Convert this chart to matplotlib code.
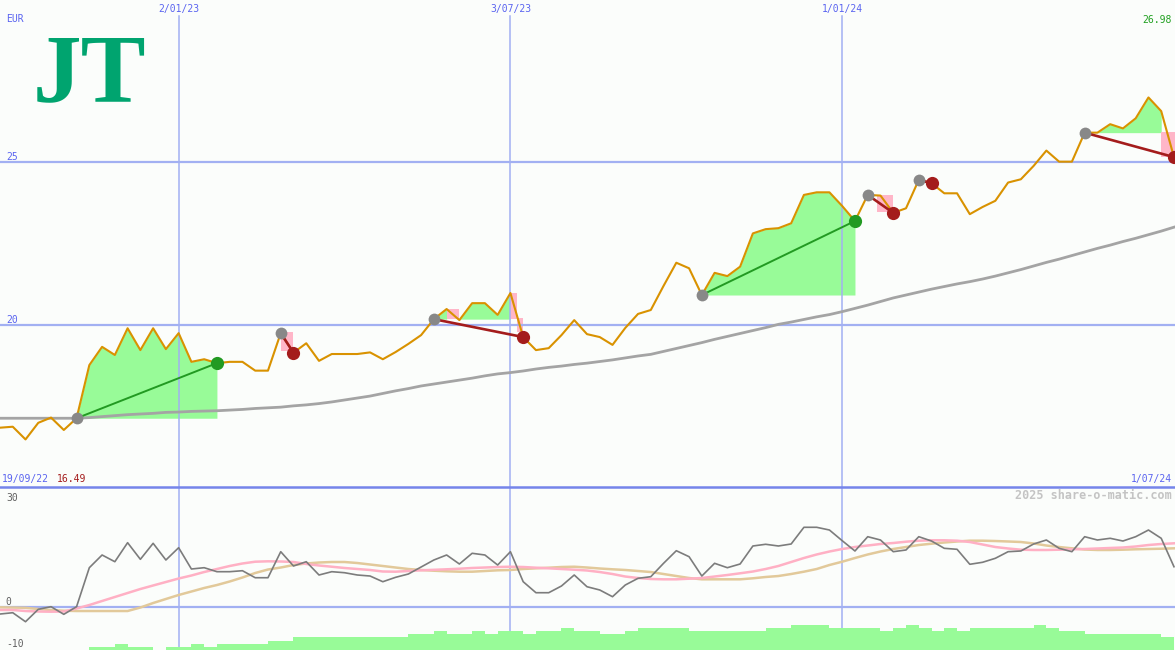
"""Weekly JT share chart (EUR) in the share-o-matic look:
price + long average + trade fills on top, oscillator and volume strip below."""

import matplotlib

matplotlib.use("Agg")  # headless
import matplotlib.pyplot as plt  # noqa: E402
import matplotlib.dates as mdates  # noqa: E402
import numpy as np  # noqa: E402
import pandas as pd  # noqa: E402

# ---- data --------------------------------------------------------------
price = [16.85, 16.88, 16.49, 17.00, 17.16, 16.78, 17.14, 18.77, 19.33, 19.08,
         19.90, 19.23, 19.90, 19.26, 19.75, 18.87, 18.95, 18.83, 18.87, 18.87,
         18.60, 18.60, 19.75, 19.15, 19.44, 18.90, 19.11, 19.11, 19.11, 19.16,
         18.95, 19.17, 19.42, 19.69, 20.18, 20.49, 20.15, 20.67, 20.67, 20.31,
         20.98, 19.63, 19.23, 19.29, 19.69, 20.15, 19.72, 19.63, 19.39, 19.91,
         20.34, 20.46, 21.20, 21.91, 21.74, 20.92, 21.60, 21.50, 21.79, 22.81,
         22.94, 22.97, 23.12, 23.99, 24.07, 24.07, 23.65, 23.19, 23.99, 23.97,
         23.44, 23.58, 24.45, 24.35, 24.04, 24.04, 23.40, 23.62, 23.81, 24.37,
         24.47, 24.88, 25.35, 25.01, 25.01, 25.90, 25.90, 26.16, 26.03, 26.34,
         26.98, 26.56, 25.15]

ma_long = [17.14, 17.14, 17.14, 17.14, 17.14, 17.14, 17.14, 17.16, 17.19, 17.22,
           17.25, 17.27, 17.29, 17.32, 17.33, 17.35, 17.36, 17.37, 17.39, 17.41,
           17.44, 17.46, 17.48, 17.52, 17.55, 17.59, 17.64, 17.70, 17.76, 17.82,
           17.90, 17.98, 18.05, 18.13, 18.19, 18.25, 18.31, 18.37, 18.44, 18.50,
           18.54, 18.59, 18.65, 18.70, 18.74, 18.79, 18.83, 18.88, 18.93, 18.99,
           19.05, 19.10, 19.19, 19.28, 19.37, 19.46, 19.56, 19.65, 19.74, 19.83,
           19.92, 20.02, 20.09, 20.17, 20.25, 20.32, 20.41, 20.51, 20.61, 20.72,
           20.83, 20.92, 21.01, 21.10, 21.18, 21.26, 21.33, 21.41, 21.50, 21.60,
           21.70, 21.81, 21.92, 22.02, 22.13, 22.24, 22.35, 22.45, 22.56, 22.66,
           22.77, 22.88, 23.00]

osc = [-1.85, -1.49, -3.97, -0.55, 0.17, -1.93, 0.17, 10.91, 14.41, 12.56,
       17.80, 13.22, 17.63, 13.03, 16.42, 10.55, 10.91, 9.81, 9.81, 10.08,
       8.15, 8.15, 15.32, 11.38, 12.56, 8.90, 9.81, 9.53, 8.90, 8.62,
       7.05, 8.26, 9.17, 11.10, 13.03, 14.41, 11.93, 14.88, 14.41, 11.65,
       15.32, 7.05, 4.02, 4.02, 5.87, 8.90, 5.67, 4.77, 2.92, 6.14,
       7.99, 8.43, 12.12, 15.59, 13.94, 8.62, 12.12, 10.91, 11.93, 16.89,
       17.36, 16.89, 17.44, 22.04, 22.04, 21.29, 18.35, 15.51, 19.45, 18.54,
       15.32, 15.79, 19.45, 18.26, 16.25, 15.98, 11.85, 12.40, 13.50, 15.32,
       15.51, 17.44, 18.54, 16.25, 15.32, 19.45, 18.54, 19.01, 18.26, 19.45,
       21.29, 19.01, 11.18]

osc_fast = [-0.74, -0.74, -1.02, -1.16, -1.21, -1.16, -0.33, 0.63, 1.74, 2.84,
            3.94, 5.04, 6.01, 6.97, 7.93, 8.76, 9.72, 10.55, 11.38, 12.07,
            12.56, 12.67, 12.62, 12.48, 11.93, 11.52, 11.18, 10.83, 10.55, 10.28,
            9.86, 9.81, 10.00, 10.19, 10.33, 10.47, 10.63, 10.83, 10.96, 11.10,
            11.18, 11.10, 10.91, 10.74, 10.55, 10.36, 10.14, 9.72, 9.17, 8.48,
            8.07, 7.80, 7.71, 7.71, 7.88, 8.07, 8.48, 8.90, 9.37, 9.86,
            10.55, 11.38, 12.48, 13.58, 14.55, 15.37, 16.06, 16.61, 17.02, 17.44,
            17.71, 18.07, 18.35, 18.46, 18.46, 18.35, 17.99, 17.30, 16.61, 16.20,
            15.87, 15.79, 15.79, 15.87, 15.98, 16.06, 16.20, 16.34, 16.47, 16.75,
            17.16, 17.44, 17.63]

osc_slow = [0.00, -0.06, -0.14, -0.47, -0.74, -0.94, -1.02, -1.02, -1.02, -1.02,
            -1.02, -0.06, 1.18, 2.29, 3.39, 4.35, 5.32, 6.14, 7.11, 8.21,
            9.45, 10.41, 10.96, 11.65, 12.07, 12.34, 12.48, 12.48, 12.20, 11.79,
            11.38, 10.96, 10.55, 10.28, 10.08, 9.92, 9.81, 9.81, 10.00, 10.19,
            10.28, 10.55, 10.74, 10.91, 11.10, 11.18, 10.96, 10.69, 10.47, 10.28,
            10.00, 9.72, 9.17, 8.62, 8.07, 7.71, 7.71, 7.71, 7.71, 7.99,
            8.35, 8.62, 9.17, 9.81, 10.55, 11.65, 12.56, 13.58, 14.55, 15.37,
            16.06, 16.61, 17.16, 17.52, 17.85, 18.13, 18.35, 18.35, 18.26, 18.13,
            17.99, 17.58, 17.02, 16.61, 16.25, 15.92, 15.79, 15.79, 15.87, 15.98,
            16.06, 16.14, 16.25]

# one volume bar per weekly interval (relative level)
volume = [0, 0, 0, 0, 0, 0, 0, 1, 1, 2, 1, 1, 0, 1, 1, 2, 1,
          2, 2, 2, 2, 3, 3, 4, 4, 4, 4, 4, 4, 4, 4, 4, 5, 5, 6, 5, 5,
          6, 5, 6, 6, 5, 6, 6, 7, 6, 6, 5, 5, 6, 7, 7, 7, 7, 6, 6, 6,
          6, 6, 6, 7, 7, 8, 8, 8, 7, 7, 7, 7, 6, 7, 8, 7, 6, 7, 6, 7,
          7, 7, 7, 7, 8, 7, 6, 6, 5, 5, 5, 5, 5, 5, 4]

# trades: week index of entry / exit
trade_entry = [6, 22, 34, 55, 68, 72, 85]
trade_exit = [17, 23, 41, 67, 70, 73, 92]

# drawdown boxes (week index span, price top / bottom)
pink_start = [22, 35, 40, 40.5, 68.7, 72, 91]
pink_end = [23, 36, 40.5, 41, 70, 73, 92.2]
pink_top = [19.78, 20.49, 20.98, 20.21, 23.99, 24.45, 25.92]
pink_bottom = [19.20, 20.18, 20.18, 19.79, 23.47, 24.35, 25.15]

first_week = "2022-09-26"
grid_dates = ["2023-01-02", "2023-07-03", "2024-01-01"]
start_label = "19/09/22"
end_label = "1/07/24"
currency = "EUR"
price_grid = [20, 25]
osc_labels = [30, 0, -10]

# ---- styles ------------------------------------------------------------
BG = "#fbfdfb"
GRID = "#a2b0f2"
SEP = "#7585ea"
LABEL_BLUE = "#5a64f0"
PRICE = "#d99200"
MA = "#a4a4a4"
FILL_GREEN = "#98fb98"
FILL_PINK = "#ffb6c8"
WIN = "#229a22"
LOSS = "#a41c1c"
ENTRY = "#888888"
MONO = "DejaVu Sans Mono"

dates = pd.date_range(first_week, periods=len(price), freq="7D")
x = mdates.date2num(dates)
week = 7.0
xlim = (x[0], x[0] + 92.08 * week)
vdates = mdates.date2num(pd.to_datetime(grid_dates))

fig = plt.figure(figsize=(11.75, 6.5), dpi=100, facecolor=BG)
ax = fig.add_axes([0, 163 / 650, 1, 487 / 650], facecolor=BG)
ax2 = fig.add_axes([0, 0, 1, 163 / 650], facecolor=BG)

# ---- main price panel --------------------------------------------------
ax.set_xlim(*xlim)
ax.set_ylim(15.031, 29.969)

for e, q in zip(trade_entry, trade_exit):
    level = price[e]
    run = None
    for k in range(e, q + 1):
        ok = k < q and price[k + 1] >= level
        if ok and run is None:
            run = k
        if not ok and run is not None:
            ax.fill_between(x[run:k + 1], price[run:k + 1], level,
                            color=FILL_GREEN, lw=0, zorder=1)
            run = None

px0 = x[0] + week * np.array(pink_start)
px1 = x[0] + week * np.array(pink_end)
for a, b, t, btm in zip(px0, px1, pink_top, pink_bottom):
    ax.fill_between([a, b], [t, t], [btm, btm], color=FILL_PINK, lw=0, zorder=1)

for g in price_grid:
    ax.axhline(g, color=GRID, lw=1.6, zorder=2)
    ax.text(0.005, g, str(g), transform=ax.get_yaxis_transform(), ha="left",
            va="bottom", fontsize=7, family=MONO, color=LABEL_BLUE)
for d in vdates:
    ax.axvline(d, ymax=0.967, color=GRID, lw=1.1, zorder=2)
    ax.text(d, 0.982, mdates.num2date(d).strftime("%-d/%m/%y"),
            transform=ax.get_xaxis_transform(), ha="center", va="center",
            fontsize=7, family=MONO, color=LABEL_BLUE)

ax.plot(x, ma_long, color=MA, lw=2.0, zorder=3)
ax.plot(x, price, color=PRICE, lw=1.5, zorder=4)

for e, q in zip(trade_entry, trade_exit):
    col = WIN if price[q] >= price[e] else LOSS
    ax.plot([x[e], x[q]], [price[e], price[q]], color=col,
            lw=1.4 if col == WIN else 1.9, zorder=5)
    ax.plot(x[q], price[q], "o", ms=9.5, color=col, mec="none", zorder=6)
    ax.plot(x[e], price[e], "o", ms=8.5, color=ENTRY, mec="none", zorder=6)

ax.text(0.005, 0.961, currency, transform=ax.transAxes, ha="left", va="center",
        fontsize=7, family=MONO, color=LABEL_BLUE)
ax.text(0.9975, 0.959, f"{max(price):.2f}", transform=ax.transAxes, ha="right",
        va="center", fontsize=7, family=MONO, color="#20a020")
ax.text(0.002, 0.016, start_label, transform=ax.transAxes, ha="left",
        va="center", fontsize=7, family=MONO, color=LABEL_BLUE)
ax.text(0.048, 0.016, f"{min(price):.2f}", transform=ax.transAxes, ha="left",
        va="center", fontsize=7, family=MONO, color=LOSS)
ax.text(0.9975, 0.016, end_label, transform=ax.transAxes, ha="right",
        va="center", fontsize=7, family=MONO, color=LABEL_BLUE)

# company logo, kept as text
fig.text(33 / 1175, 1 - 33 / 650, "JT", ha="left", va="top", fontsize=70,
         family="Liberation Serif", weight="bold", color="#00a46f")

ax.set_xticks([])
ax.set_yticks([])
for s in ax.spines.values():
    s.set_visible(False)

# ---- oscillator / volume panel ------------------------------------------
ax2.set_xlim(*xlim)
ax2.set_ylim(-11.76, 33.14)
ax2.axhline(0, color=GRID, lw=1.6, zorder=1)
for d in vdates:
    ax2.axvline(d, color=GRID, lw=1.1, zorder=1)

ax2.plot(x, osc_slow, color="#e2c99a", lw=1.8, zorder=2)
ax2.plot(x, osc_fast, color="#ffb0c4", lw=1.8, zorder=3)
ax2.plot(x, osc, color="#7c7c7c", lw=1.2, zorder=4)

for v in osc_labels:
    ax2.text(0.005, v, str(v), transform=ax2.get_yaxis_transform(), ha="left",
             va="bottom" if v == 0 else "center", fontsize=7, family=MONO,
             color="#606060")
ax2.text(0.9975, 0.945, "2025 share-o-matic.com", transform=ax2.transAxes,
         ha="right", va="center", fontsize=8.5, family=MONO, color="#c4c4c4",
         weight="bold")

axv = ax2.twinx()
axv.set_ylim(0, 52)
axv.bar(x[:-1], volume, width=week, align="edge", color=FILL_GREEN, lw=0)
axv.set_xlim(*xlim)

for a in (ax2, axv):
    a.set_xticks([])
    a.set_yticks([])
    for name, s in a.spines.items():
        s.set_visible(False)
ax2.spines["top"].set_visible(True)
ax2.spines["top"].set_color(SEP)
ax2.spines["top"].set_linewidth(1.8)

fig.savefig("out.png", dpi=100, facecolor=BG)
plt.close(fig)
